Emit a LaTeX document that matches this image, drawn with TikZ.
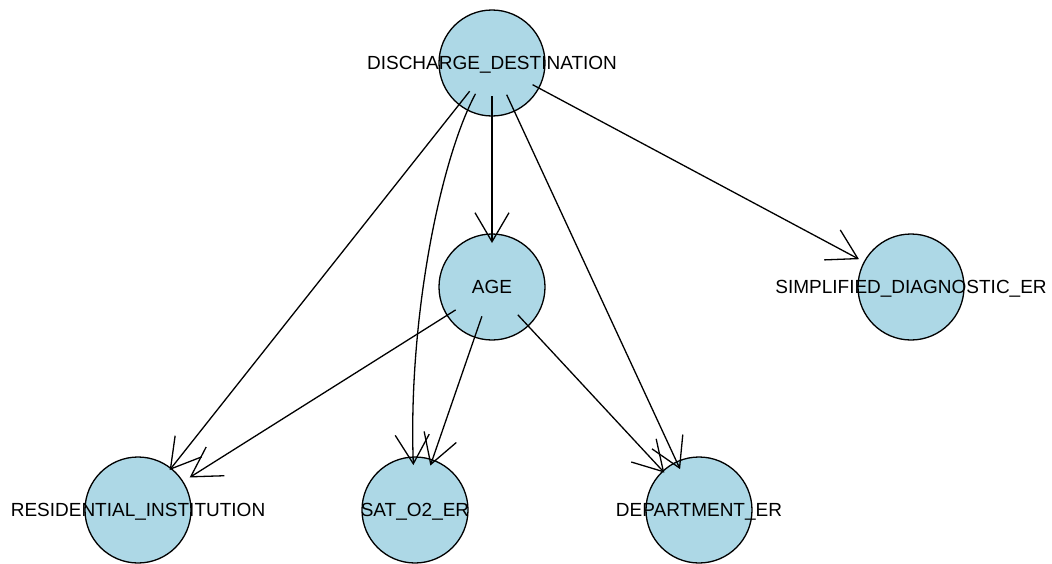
\documentclass[tikz,border=0pt]{standalone}
\usepackage{fontspec}
\setmainfont{Liberation Sans}
\usetikzlibrary{arrows.meta}
\definecolor{vertexblue}{RGB}{173,216,230}
\tikzset{
	vertex/.style={circle, draw=black, line width=1.3pt, fill=vertexblue, minimum size=106pt, inner sep=0pt},
	vname/.style={font=\fontsize{19}{19}\selectfont, inner sep=0pt, text depth=0pt},
	edge/.style={-{Straight Barb[length=29pt, width=34pt]}, line width=1.3pt}
}
\begin{document}
\begin{tikzpicture}[x=1pt, y=-1pt]
	\useasboundingbox (0, 0) rectangle (1052, 563);

	%nodes
	\foreach \n/\p/\t in {
		dd/{(492, 63)}/DISCHARGE\_DESTINATION,
		age/{(492, 287)}/AGE,
		simp/{(911, 287)}/SIMPLIFIED\_DIAGNOSTIC\_ER,
		res/{(138, 510)}/RESIDENTIAL\_INSTITUTION,
		sat/{(415, 510)}/SAT\_O2\_ER,
		dept/{(699, 510)}/DEPARTMENT\_ER
	}\node [vertex, label={[vname]center:\t}] (\n) at \p {};

	%edges
	\foreach \a/\b/\s/\e in {
		dd/age/33/44,
		dd/res/36/51,
		dd/dept/35/45,
		dd/simp/46/59,
		age/res/43/61,
		age/sat/31/47,
		age/dept/38/51
	}\draw [edge, shorten <=\s pt, shorten >=\e pt] (\a.center) -- (\b.center);

	%curved edge
	\draw [edge, shorten <=35pt, shorten >=45pt] (dd.center)
		.. controls (440, 160) and (408, 320) .. (sat.center);

\end{tikzpicture}
\end{document}
